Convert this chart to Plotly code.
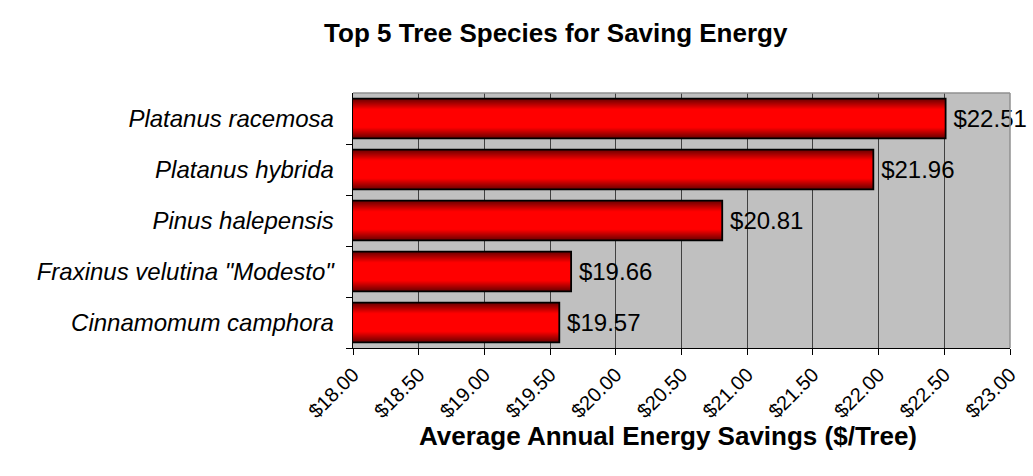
import plotly.graph_objects as go

# Energy savings per tree for the five best species
species = [
    "Platanus racemosa",
    "Platanus hybrida",
    "Pinus halepensis",
    'Fraxinus velutina "Modesto"',
    "Cinnamomum camphora",
]
savings = [22.51, 21.96, 20.81, 19.66, 19.57]
x_ticks = [18.0, 18.5, 19.0, 19.5, 20.0, 20.5, 21.0, 21.5, 22.0, 22.5, 23.0]

FONT = "Liberation Sans, Arial, sans-serif"
BAR_W = 0.78


def mix(c1, c2, t):
    return "rgb({},{},{})".format(*[round(a + (b - a) * t) for a, b in zip(c1, c2)])


fig = go.Figure()

# Cylinder-like shading: stacked bars, each narrower and brighter than the last
n_layers = 16
dark, bright = (108, 0, 0), (255, 0, 0)
for k in range(n_layers):
    t = k / (n_layers - 1)
    frac = 1.0 - 0.75 * t
    shade = min(1.0, t / 0.7)
    fig.add_trace(go.Bar(
        x=savings, y=species, orientation="h",
        width=BAR_W * frac,
        marker=dict(color=mix(dark, bright, shade), line=dict(width=0)),
        hoverinfo="skip", showlegend=False,
    ))

# Outline and value labels on top
fig.add_trace(go.Bar(
    x=savings, y=species, orientation="h",
    width=BAR_W,
    marker=dict(color="rgba(0,0,0,0)", line=dict(color="#000000", width=1.8)),
    text=["\u2009${:.2f}".format(v) for v in savings],
    textposition="outside",
    textfont=dict(family=FONT, size=24, color="#000000"),
    cliponaxis=False,
    showlegend=False,
))

fig.update_layout(
    width=1033, height=476,
    barmode="overlay",
    paper_bgcolor="#ffffff",
    plot_bgcolor="#c0c0c0",
    margin=dict(l=353, r=23, t=93, b=128),
    title=dict(
        text="<b>Top 5 Tree Species for Saving Energy</b>",
        font=dict(family=FONT, size=26, color="#000000"),
        x=0.538, xanchor="center", y=0.93, yanchor="middle",
    ),
    font=dict(family=FONT, color="#000000"),
)

fig.update_xaxes(
    range=[18, 23],
    tickvals=x_ticks,
    ticktext=["${:.2f}".format(v) for v in x_ticks],
    tickangle=-45,
    tickfont=dict(family=FONT, size=20, color="#000000"),
    ticks="outside", ticklen=6, tickcolor="#000000", tickwidth=1,
    showgrid=True, gridcolor="#404040", gridwidth=1,
    showline=True, linecolor="#000000", linewidth=1,
    zeroline=False,
)

fig.update_yaxes(
    categoryorder="array", categoryarray=species[::-1],
    tickson="boundaries",
    ticks="outside", ticklen=6, tickcolor="#000000", tickwidth=1,
    tickfont=dict(family=FONT, size=24, color="#000000"),
    showgrid=False,
    showline=True, linecolor="#000000", linewidth=1,
)

# X axis title, centred a little left of the plot centre
fig.add_annotation(
    text="<b>Average Annual Energy Savings ($/Tree)</b>",
    xref="paper", yref="paper", x=0.48, y=-0.345,
    xanchor="center", yanchor="middle", showarrow=False,
    font=dict(family=FONT, size=26, color="#000000"),
)

# Light frame on the top and right of the plotting area
fig.add_shape(type="line", xref="paper", yref="paper", x0=0, x1=1, y0=1, y1=1,
              line=dict(color="#909090", width=1.5))
fig.add_shape(type="line", xref="paper", yref="paper", x0=1, x1=1, y0=0, y1=1,
              line=dict(color="#909090", width=1.5))

# Italic species names, set a little away from the axis
fig.update_yaxes(
    tickvals=species,
    ticktext=["<i>{}</i>  ".format(s) for s in species],
)

fig.write_html("out.html")
